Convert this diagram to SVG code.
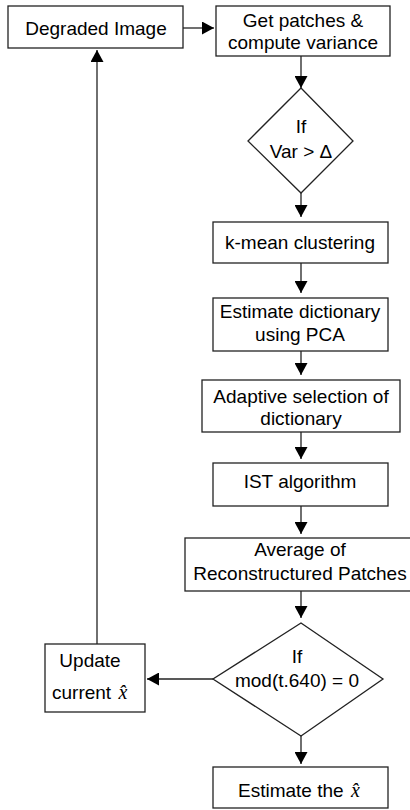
<svg xmlns="http://www.w3.org/2000/svg" width="410" height="810" viewBox="0 0 410 810">
<style>
.b{fill:#fff;stroke:#222;stroke-width:1.3}
.t{font-family:"Liberation Sans",Arial,sans-serif;font-size:19px;fill:#000;text-anchor:middle}
.ts{font-family:"Liberation Sans",Arial,sans-serif;font-size:19px;fill:#000}
.x{font-family:"Liberation Serif","Times New Roman",serif;font-style:italic;font-size:20px;fill:#000}
.c{fill:none;stroke:#222;stroke-width:1.3}
</style>
<defs>
<marker id="ah" markerWidth="13" markerHeight="13" refX="12" refY="6.5" orient="auto" markerUnits="userSpaceOnUse">
<path d="M0,0 L12,6.5 L0,13 Z" fill="#000"/>
</marker>
</defs>
<rect width="410" height="810" fill="#fff"/>
<g id="connectors">
<line class="c" x1="183" y1="28" x2="214" y2="28" marker-end="url(#ah)"/>
<line class="c" x1="301" y1="56" x2="301" y2="88" marker-end="url(#ah)"/>
<line class="c" x1="301" y1="193" x2="301" y2="217" marker-end="url(#ah)"/>
<line class="c" x1="301" y1="263" x2="301" y2="293" marker-end="url(#ah)"/>
<line class="c" x1="301" y1="351" x2="301" y2="375" marker-end="url(#ah)"/>
<line class="c" x1="301" y1="432" x2="301" y2="459" marker-end="url(#ah)"/>
<line class="c" x1="301" y1="506" x2="301" y2="534" marker-end="url(#ah)"/>
<line class="c" x1="301" y1="591" x2="301" y2="618" marker-end="url(#ah)"/>
<line class="c" x1="213" y1="679" x2="147" y2="679" marker-end="url(#ah)"/>
<line class="c" x1="301" y1="736" x2="301" y2="764" marker-end="url(#ah)"/>
<line class="c" x1="97" y1="644" x2="97" y2="50" marker-end="url(#ah)"/>
</g>
<g id="degraded">
<rect class="b" x="8" y="6" width="175" height="42"/>
<text class="t" x="96" y="35">Degraded Image</text>
</g>
<g id="patches">
<rect class="b" x="216" y="6" width="174" height="50"/>
<text class="t" x="303" y="27">Get patches &amp;</text>
<text class="t" x="303" y="49">compute variance</text>
</g>
<g id="ifvar">
<polygon class="b" points="301,88 353,141 301,193 248,141"/>
<text class="t" x="301" y="133">If</text>
<text class="t" x="301" y="158">Var &gt; Δ</text>
</g>
<g id="kmean">
<rect class="b" x="213" y="222" width="175" height="41"/>
<text class="t" x="300" y="249">k-mean clustering</text>
</g>
<g id="pca">
<rect class="b" x="213" y="298" width="175" height="53"/>
<text class="t" x="300" y="318">Estimate dictionary</text>
<text class="t" x="300" y="341">using PCA</text>
</g>
<g id="adaptive">
<rect class="b" x="202" y="380" width="198" height="52"/>
<text class="t" x="301" y="403">Adaptive selection of</text>
<text class="t" x="301" y="425">dictionary</text>
</g>
<g id="ist">
<rect class="b" x="213" y="463" width="175" height="43"/>
<text class="t" x="300" y="488">IST algorithm</text>
</g>
<g id="average">
<rect class="b" x="185" y="538" width="230" height="53"/>
<text class="t" x="300" y="556">Average of</text>
<text class="t" x="300" y="580">Reconstructured Patches</text>
</g>
<g id="ifmod">
<polygon class="b" points="301,623 383,679 301,736 213,679"/>
<text class="t" x="297" y="663">If</text>
<text class="t" x="297" y="687">mod(t.640) = 0</text>
</g>
<g id="update">
<rect class="b" x="45" y="644" width="100" height="68"/>
<text class="t" x="90" y="667">Update</text>
<text class="ts" x="52" y="699">current <tspan class="x" dx="2">x&#x302;</tspan></text>
</g>
<g id="estimate">
<rect class="b" x="213" y="767" width="175" height="41"/>
<text class="ts" x="238" y="797">Estimate the <tspan class="x" dx="2">x&#x302;</tspan></text>
</g>
</svg>
